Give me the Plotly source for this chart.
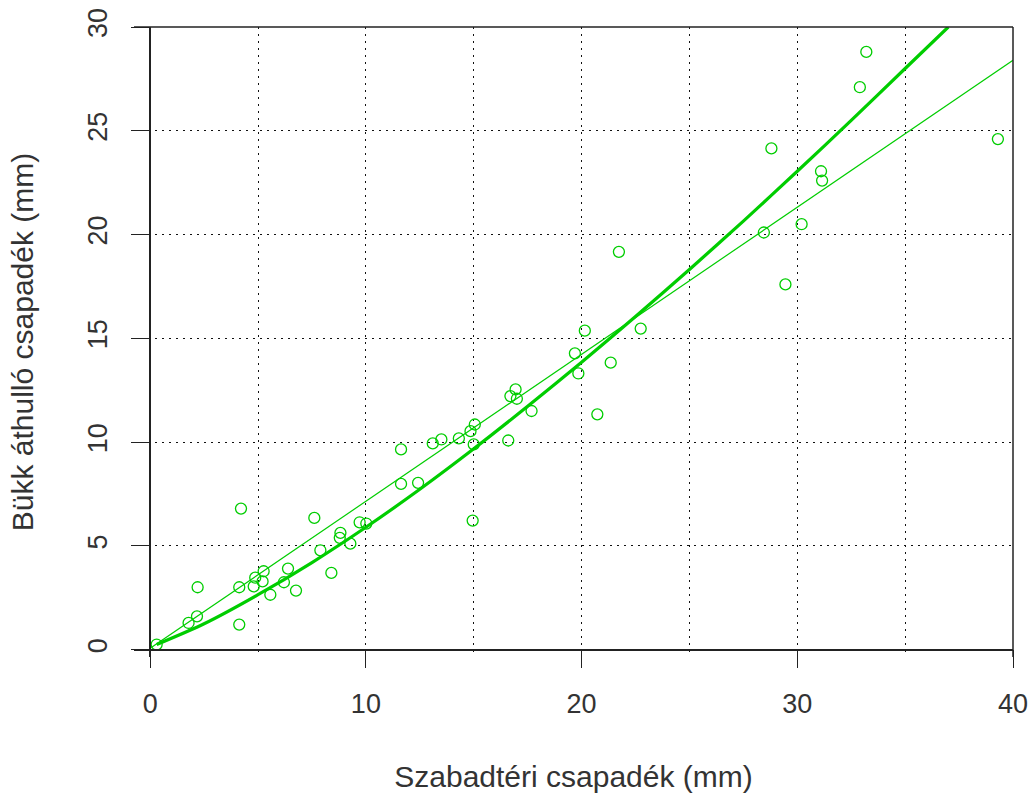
import plotly.graph_objects as go

# Scatter data: open-field precipitation (x) vs beech throughfall (y), mm
obs_x = [0.3, 1.78, 2.17, 2.20, 4.13, 4.13, 4.21, 4.80, 4.87, 5.21, 5.26, 5.57,
         6.2, 6.39, 6.76, 7.61, 7.89, 8.40, 8.79, 8.82, 9.28, 9.71, 10.02,
         11.63, 11.63, 12.42, 13.1, 13.5, 14.31, 14.85, 15.05, 15.0, 14.95,
         16.6, 16.94, 16.7, 17.0, 17.68, 19.69, 19.85, 20.15, 20.73, 21.35,
         21.73, 22.74, 28.45, 28.8, 29.45, 30.2, 31.1, 31.15, 32.9, 33.2, 39.3]
obs_y = [0.25, 1.29, 1.61, 3.01, 1.21, 3.01, 6.80, 3.05, 3.47, 3.29, 3.78, 2.65,
         3.25, 3.91, 2.85, 6.35, 4.79, 3.70, 5.39, 5.63, 5.11, 6.14, 6.08,
         9.65, 7.99, 8.04, 9.94, 10.13, 10.18, 10.53, 10.85, 9.89, 6.22,
         10.08, 12.54, 12.22, 12.09, 11.5, 14.28, 13.31, 15.37, 11.34, 13.83,
         19.17, 15.47, 20.1, 24.15, 17.6, 20.5, 23.05, 22.6, 27.1, 28.8, 24.6]

# Thick fitted curve
curve_x = [0.3, 2.5, 5, 7.5, 10, 12.5, 15, 17.5, 20, 22.5, 25, 27.5, 30, 32.5, 35, 37]
curve_y = [0.25, 1.25, 2.65, 4.2, 5.9, 7.73, 9.68, 11.73, 13.85, 16.05, 18.32, 20.65, 23.05, 25.5, 28.0, 30.0]

# Thin fitted line
line_x = [0, 10, 20, 30, 40]
line_y = [0.07, 7.15, 14.2, 21.3, 28.4]

x_ticks = [0, 10, 20, 30, 40]
y_ticks = [0, 5, 10, 15, 20, 25, 30]

GREEN = "#00CD00"
XR = [-0.75, 40]
YR = [-0.35, 30]
AX = "#222222"

fig = go.Figure()
fig.add_trace(go.Scatter(x=line_x, y=line_y, mode="lines",
                         line=dict(color=GREEN, width=1.2), hoverinfo="skip"))
fig.add_trace(go.Scatter(x=curve_x, y=curve_y, mode="lines",
                         line=dict(color=GREEN, width=3.2, shape="spline", smoothing=0.8),
                         hoverinfo="skip"))
fig.add_trace(go.Scatter(x=obs_x, y=obs_y, mode="markers",
                         marker=dict(symbol="circle-open", size=11, color=GREEN,
                                     line=dict(width=1.3, color=GREEN))))

grid_kw = dict(gridcolor="#111111", gridwidth=1.3, griddash="2px,5px")
FAM = "Liberation Sans, Arial, sans-serif"
tick_font = dict(family=FAM, size=27, color="#333333")
title_font = dict(family=FAM, size=30, color="#333333")

fig.update_layout(
    width=1030, height=793,
    margin=dict(l=134, r=17, t=27, b=136, autoexpand=False),
    paper_bgcolor="white", plot_bgcolor="white",
    showlegend=False,
    xaxis=dict(
        range=XR, domain=[0, 1], anchor="free", automargin=False,
        position=(0 - YR[0]) / (YR[1] - YR[0]),
        tickvals=x_ticks, ticktext=[str(v) for v in x_ticks],
        ticks="outside", ticklen=18, tickwidth=1.3, tickcolor=AX,
        ticklabelstandoff=12, ticklabeloverflow="allow",
        showline=True, linecolor=AX, linewidth=1.5,
        showgrid=True, zeroline=False, **grid_kw,
        minor=dict(dtick=5, tick0=0, showgrid=True, ticks="", **grid_kw),
        tickfont=tick_font,
        title=dict(text="Szabadtéri csapadék (mm)", font=title_font, standoff=47),
    ),
    yaxis=dict(
        range=YR, domain=[0, 1], anchor="free", automargin=False,
        position=(0 - XR[0]) / (XR[1] - XR[0]),
        tickvals=y_ticks, ticktext=[str(v) for v in y_ticks],
        ticks="outside", ticklen=18, tickwidth=1.3, tickcolor=AX,
        tickangle=-90, ticklabelstandoff=14, ticklabeloverflow="allow",
        showline=True, linecolor=AX, linewidth=1.5,
        showgrid=True, zeroline=False, **grid_kw,
        tickfont=tick_font,
        title=dict(text="Bükk áthulló csapadék (mm)", font=title_font, standoff=39),
    ),
    shapes=[
        dict(type="line", xref="paper", yref="paper", x0=1, x1=1, y0=0, y1=1,
             line=dict(color=AX, width=1.5)),
        dict(type="line", xref="paper", yref="paper", x0=0, x1=1, y0=1, y1=1,
             line=dict(color=AX, width=1.5)),
    ],
)

fig.write_html(
    "out.html",
    config={"displayModeBar": False},
    post_script="document.body.style.margin='0px';document.body.style.overflow='hidden';",
)
